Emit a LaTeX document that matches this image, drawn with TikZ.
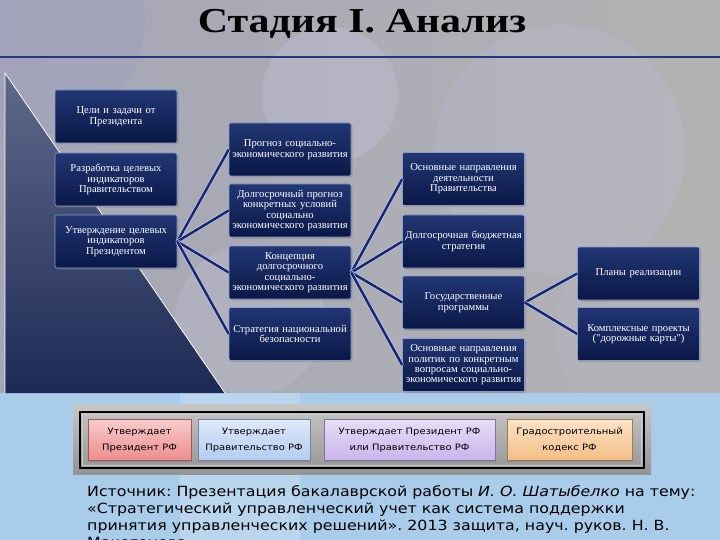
\documentclass[tikz,border=0pt]{standalone}
\usepackage{fontspec}
\setmainfont{Liberation Serif}
\newfontfamily\srcfont{DejaVu Sans}[FakeStretch=1.13]
\newfontfamily\titlefont{Liberation Serif}[FakeStretch=1.2]
\usetikzlibrary{positioning,shadows}
\definecolor{boxtop}{HTML}{213673}
\definecolor{boxbot}{HTML}{0A1848}
\definecolor{boxedge}{HTML}{8C9CCB}
\definecolor{linknavy}{HTML}{16296A}
\definecolor{rulecol}{HTML}{1E3A7C}
\definecolor{skyband}{HTML}{A8CCEA}
\definecolor{wedgetop}{HTML}{5E6A8A}
\definecolor{wedgebot}{HTML}{1D2A55}
\definecolor{lgpink}{HTML}{EE8C8C}
\definecolor{lgblue}{HTML}{B4CCF2}
\definecolor{lglav}{HTML}{C8B4EC}
\definecolor{lgorange}{HTML}{F4BE84}
\tikzset{blk/.style={draw=boxedge,line width=0.6pt,rounded corners=2pt,top color=boxtop,bottom color=boxbot,
  text=white,minimum width=122pt,minimum height=53pt,text width=120pt,align=center,inner sep=1pt,
  font=\fontsize{10.6}{10.4}\selectfont,drop shadow={shadow xshift=1.5pt,shadow yshift=-1.5pt,opacity=.45}}}
\tikzset{lnk/.style={draw=white!80!blue,line width=0.6pt,double=linknavy,double distance=2.5pt}}
\tikzset{lgd/.style={draw=#1!65!black,line width=0.6pt,top color=#1!45,bottom color=#1,
  minimum height=41pt,align=center,inner sep=1pt,font=\srcfont\fontsize{8.8}{16}\selectfont,
  drop shadow={shadow xshift=1pt,shadow yshift=-1.5pt,opacity=.6}}}

\begin{document}
\begin{tikzpicture}[x=1pt,y=-1pt]
  \clip (0,0) rectangle (720,540);
  % background
  \shade[left color=blue!20!black!35,middle color=black!8,right color=black!30] (0,0) rectangle (720,395);
  \fill[blue!40!black!40,opacity=.25] (30,20) circle (115);
  \fill[blue!15!white,opacity=.18] (330,95) circle (68);
  \fill[blue!20!white,opacity=.14] (560,150) circle (125);
  \fill[blue!25!black!25,opacity=.15] (650,330) circle (95);
  \fill[blue!10!white,opacity=.12] (250,320) circle (75);
  \fill[skyband] (0,393) rectangle (720,540);
  \fill[white,opacity=.2] (180,393) rectangle (300,540);
  % left wedge
  \shade[top color=wedgetop,bottom color=wedgebot] (5,73) -- (225,393) -- (5,393) -- cycle;
  \draw[white,line width=0.8pt] (5,393) -- (5,73) -- (225,393);
  % title
  \node (title) at (362,24) {\titlefont\fontsize{35}{38}\selectfont\bfseries Стадия I. Анализ};
  \draw[rulecol,line width=2.4pt] (0,57) -- (720,57);

  % boxes
  \node[blk] (tasks) at (116,116.5) {Цели и задачи от\\Президента};
  \node[blk] (devind) at (116,179.5) {Разработка целевых\\индикаторов\\Правительством};
  \node[blk] (appind) at (116,241.5) {Утверждение целевых\\индикаторов\\Президентом};

  \node[blk] (fcast) at (290,149.5) {Прогноз социально-\\экономического развития};
  \node[blk] (lfcast) at (290,210.5) {Долгосрочный прогноз\\конкретных условий\\социально\\экономического развития};
  \node[blk] (concept) at (290,272.5) {Концепция\\долгосрочного\\социально-\\экономического развития};
  \node[blk] (secur) at (290,334) {Стратегия национальной\\безопасности};

  \node[blk] (govdir) at (463.5,179) {Основные направления\\деятельности\\Правительства};
  \node[blk] (budget) at (463.5,241.5) {Долгосрочная бюджетная\\стратегия};
  \node[blk] (progs) at (463.5,302.5) {Государственные\\программы};
  \node[blk] (poldir) at (463.5,365) {Основные направления\\политик по конкретным\\вопросам социально-\\экономического развития};

  \node[blk] (plans) at (638.5,273.5) {Планы реализации};
  \node[blk] (roadmap) at (638.5,334) {Комплексные проекты\\(\textquotedbl дорожные карты\textquotedbl)};

  \path (appind.east) edge[lnk] (fcast.west) edge[lnk] (lfcast.west) edge[lnk] (concept.west) edge[lnk] (secur.west);
  \path (concept.east) edge[lnk] (govdir.west) edge[lnk] (budget.west) edge[lnk] (progs.west) edge[lnk] (poldir.west);
  \path (progs.east) edge[lnk] (plans.west) edge[lnk] (roadmap.west);

  % legend
  \shade[top color=black!22,bottom color=black!42] (73,404) rectangle (651,474);
  \draw[black,line width=1.6pt] (80,412) rectangle (644,468);
  \draw[white!80!black,line width=0.5pt] (82.5,414.5) rectangle (641.5,465.5);
  \node[lgd=lgpink,minimum width=103pt] (lpres) at (139.5,440) {Утверждает\\Президент РФ};
  \node[lgd=lgblue,minimum width=112pt] (lgov) at (254,440) {Утверждает\\Правительство РФ};
  \node[lgd=lglav,minimum width=171pt] (lboth) at (409.5,440) {Утверждает Президент РФ\\или Правительство РФ};
  \node[lgd=lgorange,minimum width=125pt] (lcode) at (569.5,440) {Градостроительный\\кодекс РФ};

  % source
  \node[anchor=north west,align=left,inner sep=0pt,font=\srcfont\fontsize{14}{17.2}\selectfont\frenchspacing] (src) at (87,485)
    {Источник: Презентация бакалаврской работы \textit{И. О. Шатыбелко} на тему:\\
     «Стратегический управленческий учет как система поддержки\\
     принятия управленческих решений». 2013 защита, науч. руков. Н. В.\\
     Макогонова};
\end{tikzpicture}
\end{document}
